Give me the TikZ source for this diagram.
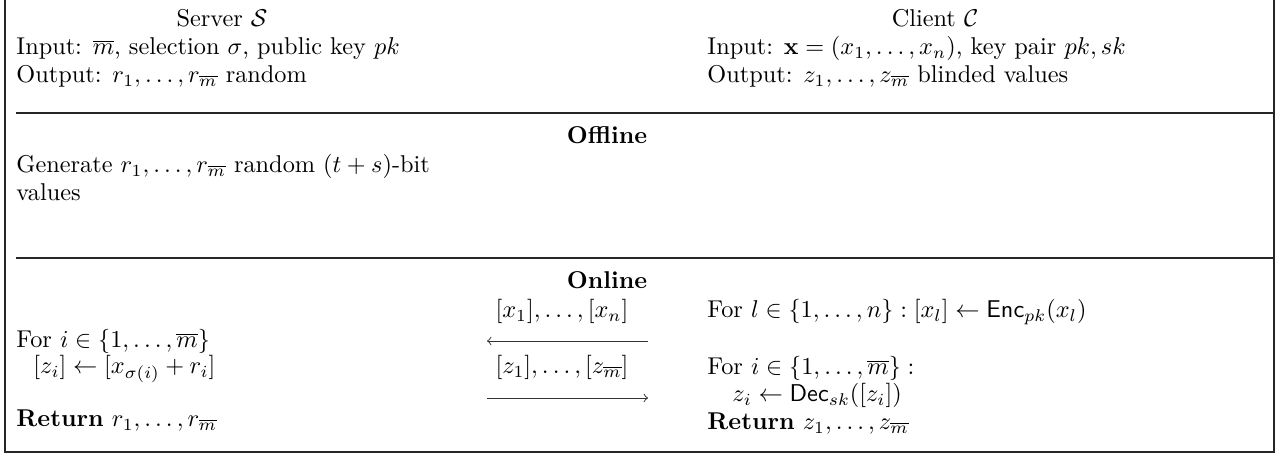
\documentclass[tikz,border=0pt]{standalone}
\usepackage{amsmath,amssymb}
\begin{document}
\begin{tikzpicture}[x=0.4115pt,y=-0.4115pt,
  txt/.style={inner sep=0pt,anchor=base west},
  ctr/.style={inner sep=0pt,anchor=base},
  frame/.style={line width=0.6pt,draw=black!85},
  rule/.style={line width=0.5pt,draw=black!85},
  msg/.style={line width=0.4pt,->,draw=black!80}]
\useasboundingbox (0,0) rectangle (1279,454);
% frame
\coordinate (tl) at (5,0);
\coordinate (bl) at (5,452);
\coordinate (br) at (1274,452);
\coordinate (tr) at (1274,0);
\draw[frame] (tl) -- (bl) -- (br) -- (tr);
\coordinate (r1a) at (16,113);
\coordinate (r1b) at (1274,113);
\coordinate (r2a) at (16,258);
\coordinate (r2b) at (1274,258);
\draw[rule] (r1a) -- (r1b);
\draw[rule] (r2a) -- (r2b);
% header
\node[ctr] (shead) at (222,27) {Server $\mathcal{S}$};
\node[txt] (sin) at (16,55) {Input: $\overline{m}$, selection $\sigma$, public key $pk$};
\node[txt] (sout) at (16,83) {Output: $r_1,\ldots,r_{\overline{m}}$ random};
\node[ctr] (chead) at (935,27) {Client $\mathcal{C}$};
\node[txt] (cin) at (707,55) {Input: $\mathbf{x}=(x_1,\ldots,x_n)$, key pair $pk,sk$};
\node[txt] (cout) at (707,83) {Output: $z_1,\ldots,z_{\overline{m}}$ blinded values};
% offline
\node[ctr] (offline) at (607,144) {\textbf{Offline}};
\node[txt] (gen1) at (16,173) {Generate $r_1,\ldots,r_{\overline{m}}$ random $(t+s)$-bit};
\node[txt] (gen2) at (16,201) {values};
% online
\node[ctr] (online) at (607,289) {\textbf{Online}};
\node[ctr] (msg1) at (562,318) {$[x_1],\ldots,[x_n]$};
\coordinate (a1s) at (648,341);
\coordinate (a1e) at (487,341);
\draw[msg] (a1s) -- (a1e);
\node[ctr] (msg2) at (562,374) {$[z_1],\ldots,[z_{\overline{m}}]$};
\coordinate (a2s) at (487,398);
\coordinate (a2e) at (648,398);
\draw[msg] (a2s) -- (a2e);
\node[txt] (sfor) at (16,348) {For $i\in\{1,\ldots,\overline{m}\}$};
\node[txt] (szi) at (33,374) {$[z_i]\leftarrow[x_{\sigma(i)}+r_i]$};
\node[txt] (sret) at (16,427) {\textbf{Return} $r_1,\ldots,r_{\overline{m}}$};
\node[txt] (cfor1) at (707,318) {For $l\in\{1,\ldots,n\}:[x_l]\leftarrow\mathsf{Enc}_{pk}(x_l)$};
\node[txt] (cfor2) at (707,375) {For $i\in\{1,\ldots,\overline{m}\}:$};
\node[txt] (cdec) at (732,402) {$z_i\leftarrow\mathsf{Dec}_{sk}([z_i])$};
\node[txt] (cret) at (707,430) {\textbf{Return} $z_1,\ldots,z_{\overline{m}}$};
\end{tikzpicture}
\end{document}
